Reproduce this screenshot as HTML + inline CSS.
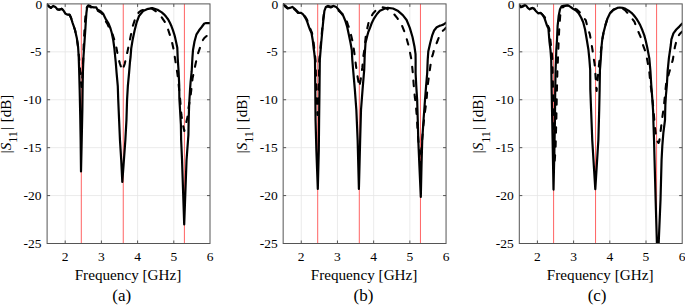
<!DOCTYPE html><html><head><meta charset="utf-8"><style>html,body{margin:0;padding:0;background:#fff;}svg{display:block;}text{font-family:"Liberation Serif",serif;fill:#000;}</style></head><body><svg width="685" height="305" viewBox="0 0 685 305"><rect width="685" height="305" fill="#fff"/><defs><clipPath id="c0"><rect x="47.10" y="2.90" width="162.90" height="240.60"/></clipPath><clipPath id="c1"><rect x="283.15" y="2.90" width="162.90" height="240.60"/></clipPath><clipPath id="c2"><rect x="519.30" y="2.90" width="162.90" height="240.60"/></clipPath></defs><g transform="translate(0.00,0)"><path d="M65.20 3.90V243.50M101.40 3.90V243.50M137.60 3.90V243.50M173.80 3.90V243.50M47.10 51.82H210.00M47.10 99.74H210.00M47.10 147.66H210.00M47.10 195.58H210.00" stroke="#e6e6e6" stroke-width="0.8" fill="none"/><path d="M81.30 3.90V243.50M123.25 3.90V243.50M184.40 3.90V243.50" stroke="#ff3c3c" stroke-width="1" stroke-opacity="0.8" fill="none"/></g><g clip-path="url(#c0)"><polyline points="47.00,4.40 48.90,6.40 50.90,7.90 53.30,5.90 55.30,6.90 57.30,9.30 59.20,9.80 61.70,8.80 63.70,10.80 65.60,13.80 67.60,14.70 69.60,14.70 71.00,17.70 72.50,22.60 74.00,27.00 75.00,30.00 76.80,37.90 78.10,47.00 78.90,56.00 79.70,65.00 80.60,78.00 81.50,87.00 82.30,78.00 82.90,65.00 83.30,56.00 83.70,45.00 84.20,35.00 84.80,25.00 85.60,14.00 86.80,7.50 88.60,6.00 91.40,7.70 93.80,8.40 96.30,8.40 97.30,10.50 98.70,11.30 101.20,12.80 102.50,14.20 103.60,17.00 105.10,20.20 107.60,24.30 109.50,28.50 111.20,31.50 112.90,35.20 115.80,44.40 118.40,58.40 120.00,64.00 122.30,70.50 124.70,64.00 127.40,51.90 130.20,38.40 132.50,27.00 134.90,19.70 137.00,15.00 139.00,12.10 141.50,10.50 144.80,9.30 148.00,8.60 151.60,8.30 155.60,11.10 159.20,14.20 161.50,17.00 165.50,23.00 168.10,29.50 170.00,35.40 172.30,43.40 173.60,49.30 175.20,59.60 177.50,74.40 178.50,83.00 179.20,90.00 180.20,100.00 181.40,115.00 183.00,125.00 184.30,131.00 185.50,126.00 186.80,120.00 187.50,117.00 188.30,109.30 189.30,103.40 190.70,95.00 191.50,88.00 192.50,78.60 195.40,64.70 197.50,55.00 199.60,48.90 202.40,40.80 204.30,38.00 207.40,35.30 209.90,33.40" fill="none" stroke="#000" stroke-width="2.1" stroke-linejoin="round" stroke-linecap="round" stroke-dasharray="5.5 8.5"/><polyline points="47.00,4.40 48.90,6.40 50.90,7.90 53.30,5.90 55.30,6.90 57.30,9.30 59.20,9.80 61.70,8.80 63.70,10.80 65.60,13.80 67.60,14.70 69.60,14.70 71.00,17.70 72.50,22.60 74.00,27.00 75.00,30.00 76.80,37.90 78.10,47.00 78.69,56.20 79.14,70.00 79.68,90.00 80.22,115.00 80.64,140.00 81.00,171.50 81.72,140.00 82.35,110.00 82.66,85.00 82.97,70.00 83.52,56.20 84.40,43.10 85.30,30.00 85.90,20.00 86.40,13.10 87.20,6.60 88.40,5.20 90.00,5.80 91.40,6.90 93.80,7.40 96.30,7.40 97.30,9.50 98.70,10.30 101.20,11.80 103.20,13.80 104.60,16.70 106.10,19.70 108.60,23.60 110.50,28.50 111.80,33.00 113.30,40.50 114.40,48.60 115.15,56.50 115.72,62.00 116.61,73.10 117.79,86.20 118.24,100.00 119.10,120.00 119.96,140.00 121.22,160.00 122.30,182.00 123.56,165.00 125.36,140.00 126.46,120.00 127.06,100.00 127.85,86.20 129.05,73.10 129.97,62.00 130.61,56.50 131.20,48.60 132.60,40.00 134.50,31.00 136.60,22.50 139.20,15.70 143.10,11.10 147.00,9.20 152.30,8.10 157.50,9.80 161.80,12.40 164.00,14.30 166.20,16.80 168.20,19.50 169.90,22.70 171.50,26.30 172.90,30.10 174.10,33.80 175.10,37.40 176.20,42.50 177.30,47.80 177.70,58.10 178.59,71.20 179.21,85.00 179.35,98.10 180.12,111.20 180.90,125.00 181.14,140.00 182.04,160.00 184.20,224.50 186.54,160.00 188.40,135.00 188.68,120.00 189.13,105.00 190.01,90.00 190.61,82.00 191.69,71.20 192.40,58.10 193.00,50.00 194.50,41.50 196.50,34.30 199.10,30.30 201.70,27.00 204.30,23.50 205.50,23.20 208.30,23.20 209.90,23.20" fill="none" stroke="#000" stroke-width="2.2" stroke-linejoin="round" stroke-linecap="round"/></g><g transform="translate(0.00,0)"><rect x="47.10" y="3.90" width="162.90" height="239.60" fill="none" stroke="#555" stroke-width="1"/><path d="M65.20 243.50v-3M65.20 3.90v3M101.40 243.50v-3M101.40 3.90v3M137.60 243.50v-3M137.60 3.90v3M173.80 243.50v-3M173.80 3.90v3M47.10 51.82h3M210.00 51.82h-3M47.10 99.74h3M210.00 99.74h-3M47.10 147.66h3M210.00 147.66h-3M47.10 195.58h3M210.00 195.58h-3" stroke="#555" stroke-width="1" fill="none"/><text x="65.20" y="261.2" font-size="13.5" text-anchor="middle">2</text><text x="101.40" y="261.2" font-size="13.5" text-anchor="middle">3</text><text x="137.60" y="261.2" font-size="13.5" text-anchor="middle">4</text><text x="173.80" y="261.2" font-size="13.5" text-anchor="middle">5</text><text x="210.00" y="261.2" font-size="13.5" text-anchor="middle">6</text><text x="42.30" y="9.40" font-size="13.5" text-anchor="end">0</text><text x="41.60" y="56.42" font-size="13.5" text-anchor="end">-5</text><text x="41.60" y="104.34" font-size="13.5" text-anchor="end">-10</text><text x="41.60" y="152.26" font-size="13.5" text-anchor="end">-15</text><text x="41.60" y="200.18" font-size="13.5" text-anchor="end">-20</text><text x="41.60" y="248.10" font-size="13.5" text-anchor="end">-25</text><text x="128.0" y="279.6" font-size="15.2" text-anchor="middle">Frequency [GHz]</text><text transform="translate(11.0,153.2) rotate(-90)" font-size="15">|<tspan font-style="italic">S</tspan><tspan font-size="12" dy="6.3">11</tspan><tspan dy="-6.3" dx="1.2">|</tspan><tspan dx="0.8"> [dB]</tspan></text></g><text x="121.80" y="301" font-size="17" text-anchor="middle">(a)</text><g transform="translate(236.05,0)"><path d="M65.20 3.90V243.50M101.40 3.90V243.50M137.60 3.90V243.50M173.80 3.90V243.50M47.10 51.82H210.00M47.10 99.74H210.00M47.10 147.66H210.00M47.10 195.58H210.00" stroke="#e6e6e6" stroke-width="0.8" fill="none"/><path d="M81.65 3.90V243.50M123.25 3.90V243.50M184.40 3.90V243.50" stroke="#ff3c3c" stroke-width="1" stroke-opacity="0.8" fill="none"/></g><g clip-path="url(#c1)"><polyline points="283.40,4.40 285.20,6.60 287.90,8.90 289.80,7.90 292.30,6.90 294.70,9.60 296.70,11.60 298.70,13.60 301.10,12.80 303.10,14.30 305.30,16.70 306.80,19.20 308.20,22.60 309.20,25.60 310.20,28.50 312.00,33.00 313.30,40.00 314.20,48.00 314.80,53.10 315.50,60.00 316.20,85.00 316.80,105.00 317.50,115.00 318.20,105.00 318.80,85.00 319.30,60.00 320.90,43.00 322.10,30.00 323.10,19.70 324.20,11.50 325.90,7.40 327.80,6.40 330.80,7.40 333.70,6.40 336.20,7.60 338.60,10.60 341.60,13.30 344.10,15.70 346.20,19.50 347.80,24.40 349.80,29.70 351.80,38.20 353.10,44.10 354.20,52.00 355.30,60.00 356.50,70.00 357.80,78.00 359.30,87.00 360.70,79.50 362.30,67.70 363.40,56.00 364.50,49.00 365.80,36.00 366.90,30.20 368.70,21.90 370.90,17.20 373.00,13.50 376.00,10.20 379.90,7.60 382.20,7.30 385.90,8.00 389.80,10.80 393.80,13.80 397.50,18.40 401.50,24.30 404.10,30.80 406.60,38.50 408.50,45.60 409.80,51.50 411.50,60.00 412.80,73.00 413.80,86.00 414.80,97.00 415.70,103.00 416.90,118.00 417.70,132.80 418.80,145.00 419.60,158.00 420.30,166.00 421.30,150.00 422.30,138.00 423.30,126.20 424.60,114.40 426.60,100.00 427.50,86.60 429.50,72.30 431.50,58.00 432.70,55.00 434.00,50.00 436.70,43.00 438.70,37.70 440.00,34.40 442.00,31.50 444.30,29.50 446.20,27.50" fill="none" stroke="#000" stroke-width="2.1" stroke-linejoin="round" stroke-linecap="round" stroke-dasharray="5.5 8.5"/><polyline points="283.40,4.40 285.40,5.90 287.90,8.40 289.80,7.90 292.30,6.90 294.70,8.80 296.70,10.80 298.70,12.80 301.10,12.80 303.10,14.30 304.60,16.70 306.10,19.20 307.50,22.60 308.50,25.60 309.50,28.50 311.50,33.00 312.70,40.00 313.60,48.00 314.32,53.10 314.99,60.00 315.29,90.00 315.56,120.00 316.36,150.00 317.80,189.00 318.80,150.00 319.10,120.00 319.50,90.00 319.80,60.00 321.20,43.00 322.40,30.00 323.40,19.70 324.40,10.80 325.90,6.90 327.80,5.90 330.80,6.90 333.70,5.90 336.20,6.90 338.60,9.80 341.60,13.50 343.30,15.90 345.20,20.50 347.20,27.00 348.90,34.90 350.50,42.80 351.80,50.00 352.31,60.00 353.11,69.70 354.83,89.30 356.35,110.00 357.64,140.00 358.90,189.00 360.16,140.00 361.00,110.00 362.58,89.30 364.22,69.70 364.72,55.00 365.50,43.00 367.20,36.00 368.30,32.00 370.10,27.70 371.90,22.70 374.10,18.30 377.00,14.00 379.90,10.80 383.90,8.90 387.70,7.80 393.00,8.50 398.20,11.10 402.80,15.10 406.60,20.00 409.80,27.90 412.50,37.00 414.40,46.20 415.53,54.10 415.62,60.00 415.59,73.10 416.29,86.20 417.16,100.00 417.76,120.00 418.28,140.00 419.36,165.00 420.80,197.00 421.52,165.00 422.24,140.00 423.52,120.00 425.00,100.00 426.09,86.20 427.20,73.10 427.71,60.00 428.29,51.50 430.20,43.00 432.10,35.70 434.10,30.50 436.70,27.20 439.30,25.90 441.50,25.30 443.30,24.60 446.20,22.60" fill="none" stroke="#000" stroke-width="2.2" stroke-linejoin="round" stroke-linecap="round"/></g><g transform="translate(236.05,0)"><rect x="47.10" y="3.90" width="162.90" height="239.60" fill="none" stroke="#555" stroke-width="1"/><path d="M65.20 243.50v-3M65.20 3.90v3M101.40 243.50v-3M101.40 3.90v3M137.60 243.50v-3M137.60 3.90v3M173.80 243.50v-3M173.80 3.90v3M47.10 51.82h3M210.00 51.82h-3M47.10 99.74h3M210.00 99.74h-3M47.10 147.66h3M210.00 147.66h-3M47.10 195.58h3M210.00 195.58h-3" stroke="#555" stroke-width="1" fill="none"/><text x="65.20" y="261.2" font-size="13.5" text-anchor="middle">2</text><text x="101.40" y="261.2" font-size="13.5" text-anchor="middle">3</text><text x="137.60" y="261.2" font-size="13.5" text-anchor="middle">4</text><text x="173.80" y="261.2" font-size="13.5" text-anchor="middle">5</text><text x="210.00" y="261.2" font-size="13.5" text-anchor="middle">6</text><text x="42.30" y="9.40" font-size="13.5" text-anchor="end">0</text><text x="41.60" y="56.42" font-size="13.5" text-anchor="end">-5</text><text x="41.60" y="104.34" font-size="13.5" text-anchor="end">-10</text><text x="41.60" y="152.26" font-size="13.5" text-anchor="end">-15</text><text x="41.60" y="200.18" font-size="13.5" text-anchor="end">-20</text><text x="41.60" y="248.10" font-size="13.5" text-anchor="end">-25</text><text x="128.0" y="279.6" font-size="15.2" text-anchor="middle">Frequency [GHz]</text><text transform="translate(11.0,153.2) rotate(-90)" font-size="15">|<tspan font-style="italic">S</tspan><tspan font-size="12" dy="6.3">11</tspan><tspan dy="-6.3" dx="1.2">|</tspan><tspan dx="0.8"> [dB]</tspan></text></g><text x="363.50" y="301" font-size="17" text-anchor="middle">(b)</text><g transform="translate(472.20,0)"><path d="M65.20 3.90V243.50M101.40 3.90V243.50M137.60 3.90V243.50M173.80 3.90V243.50M47.10 51.82H210.00M47.10 99.74H210.00M47.10 147.66H210.00M47.10 195.58H210.00" stroke="#e6e6e6" stroke-width="0.8" fill="none"/><path d="M81.40 3.90V243.50M123.35 3.90V243.50M184.40 3.90V243.50" stroke="#ff3c3c" stroke-width="1" stroke-opacity="0.8" fill="none"/></g><g clip-path="url(#c2)"><polyline points="519.40,5.60 520.90,7.40 522.90,6.60 524.80,5.40 526.30,5.90 527.80,7.90 529.70,9.30 532.20,7.90 534.20,8.80 536.10,11.30 538.10,13.30 540.60,12.80 542.50,14.70 544.80,17.20 545.80,19.70 546.80,22.60 547.80,25.60 549.20,28.50 550.50,41.00 551.60,50.20 552.40,60.00 553.00,90.00 553.50,120.00 553.90,150.00 554.50,163.00 555.50,150.00 556.30,120.00 556.90,90.00 557.40,70.00 557.90,60.00 558.70,39.30 559.30,27.50 560.20,15.70 561.30,9.20 562.60,7.50 564.20,6.30 567.50,5.50 570.10,6.60 573.40,7.90 576.60,9.40 579.50,12.00 581.90,15.70 585.80,20.30 587.80,28.20 589.80,34.10 591.20,42.00 592.50,50.00 593.60,58.00 594.50,63.00 595.00,67.50 595.80,80.00 596.60,91.00 597.60,80.00 598.40,70.00 599.30,62.00 600.40,55.00 601.40,48.00 602.20,40.00 603.50,32.80 605.50,24.90 607.50,18.40 610.10,13.10 613.40,9.80 617.30,8.20 621.20,7.80 625.00,10.00 629.50,15.20 634.40,21.70 637.40,29.50 640.40,36.40 642.30,43.30 645.30,51.20 646.60,56.60 649.20,70.30 650.20,81.70 652.00,95.00 653.50,110.00 654.70,125.00 656.50,140.00 658.50,143.00 659.30,141.00 660.50,132.00 662.00,120.00 664.00,105.00 665.00,95.00 666.20,83.00 668.90,73.50 672.80,59.90 674.90,47.00 677.30,37.40 680.20,33.40 682.20,31.50" fill="none" stroke="#000" stroke-width="2.1" stroke-linejoin="round" stroke-linecap="round" stroke-dasharray="5.5 8.5"/><polyline points="519.40,4.90 520.90,6.90 522.90,5.90 524.80,4.90 526.30,5.90 527.80,7.90 529.70,9.30 532.20,7.90 534.20,8.80 536.10,11.30 538.10,13.30 540.60,12.80 542.50,14.70 544.00,17.20 545.00,19.70 546.00,22.60 547.00,25.60 548.40,28.50 549.40,41.00 550.50,50.20 551.23,60.00 551.65,90.00 552.22,120.00 552.78,150.00 553.50,189.60 554.40,150.00 554.94,120.00 555.22,90.00 555.59,70.00 555.98,60.00 556.30,50.00 557.00,40.00 557.60,26.20 558.70,15.70 560.00,9.20 561.60,6.30 564.20,5.50 567.50,5.00 570.10,6.60 572.70,8.50 576.00,10.50 578.60,13.10 581.20,17.70 583.20,22.30 585.00,29.30 586.80,39.70 588.40,49.50 589.39,59.30 590.20,70.00 590.31,89.30 591.10,110.00 592.24,140.00 595.30,189.20 598.36,140.00 599.20,110.00 599.64,89.30 599.94,70.00 600.78,59.30 601.40,48.00 602.20,40.00 603.50,32.80 605.50,24.90 607.50,18.40 610.10,13.10 613.40,9.80 617.30,7.90 619.70,7.50 622.50,7.80 625.60,8.90 628.60,10.60 631.50,12.80 634.00,15.50 636.40,18.70 638.50,22.00 640.40,25.60 642.40,30.30 644.30,35.40 645.80,41.00 647.20,47.20 648.30,53.00 649.28,58.10 650.43,71.20 651.27,85.00 652.26,98.10 653.11,111.20 653.51,125.00 654.03,139.70 654.56,160.00 655.64,200.00 656.90,243.00 657.80,256.00 658.70,243.00 660.50,200.00 661.58,160.00 662.30,146.20 663.34,133.10 665.00,120.00 665.34,105.00 665.96,95.00 666.89,85.00 667.62,71.20 668.90,58.10 670.80,45.00 671.40,39.30 673.40,33.40 676.30,29.50 679.30,26.60 682.20,23.60" fill="none" stroke="#000" stroke-width="2.2" stroke-linejoin="round" stroke-linecap="round"/></g><g transform="translate(472.20,0)"><rect x="47.10" y="3.90" width="162.90" height="239.60" fill="none" stroke="#555" stroke-width="1"/><path d="M65.20 243.50v-3M65.20 3.90v3M101.40 243.50v-3M101.40 3.90v3M137.60 243.50v-3M137.60 3.90v3M173.80 243.50v-3M173.80 3.90v3M47.10 51.82h3M210.00 51.82h-3M47.10 99.74h3M210.00 99.74h-3M47.10 147.66h3M210.00 147.66h-3M47.10 195.58h3M210.00 195.58h-3" stroke="#555" stroke-width="1" fill="none"/><text x="65.20" y="261.2" font-size="13.5" text-anchor="middle">2</text><text x="101.40" y="261.2" font-size="13.5" text-anchor="middle">3</text><text x="137.60" y="261.2" font-size="13.5" text-anchor="middle">4</text><text x="173.80" y="261.2" font-size="13.5" text-anchor="middle">5</text><text x="210.00" y="261.2" font-size="13.5" text-anchor="middle">6</text><text x="42.30" y="9.40" font-size="13.5" text-anchor="end">0</text><text x="41.60" y="56.42" font-size="13.5" text-anchor="end">-5</text><text x="41.60" y="104.34" font-size="13.5" text-anchor="end">-10</text><text x="41.60" y="152.26" font-size="13.5" text-anchor="end">-15</text><text x="41.60" y="200.18" font-size="13.5" text-anchor="end">-20</text><text x="41.60" y="248.10" font-size="13.5" text-anchor="end">-25</text><text x="128.0" y="279.6" font-size="15.2" text-anchor="middle">Frequency [GHz]</text><text transform="translate(11.0,153.2) rotate(-90)" font-size="15">|<tspan font-style="italic">S</tspan><tspan font-size="12" dy="6.3">11</tspan><tspan dy="-6.3" dx="1.2">|</tspan><tspan dx="0.8"> [dB]</tspan></text></g><text x="597.10" y="301" font-size="17" text-anchor="middle">(c)</text></svg></body></html>
